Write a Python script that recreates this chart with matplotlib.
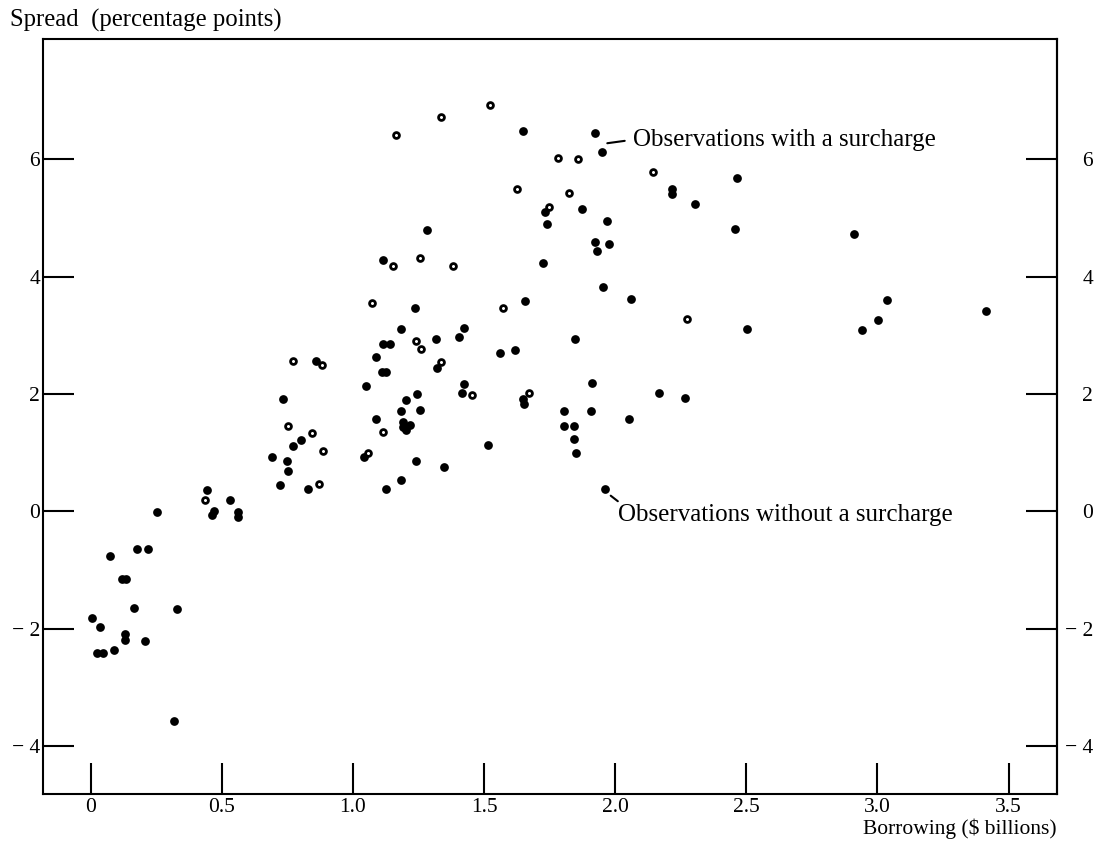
import numpy as np
import matplotlib.pyplot as plt

plt.rcParams['font.family'] = ['Liberation Serif', 'DejaVu Serif']

# observations without a surcharge (solid dots)
x_fill = [0.445, 0.533, 0.724, 0.828, 0.252, 0.462, 0.472, 0.561, 0.561, 0.073,
          0.177, 0.220, 0.119, 0.135, 0.165, 0.329, 0.006, 0.037, 0.130, 0.133,
          0.209, 0.024, 0.049, 0.088, 0.318,
          1.185, 1.116, 1.142, 1.316, 1.404, 1.423, 1.087, 1.111, 1.127, 0.860,
          1.321, 1.561, 0.734, 1.051, 1.202, 1.246, 1.424, 1.416, 1.185, 1.255,
          1.087, 1.193, 1.218, 1.190, 1.203, 0.801, 0.773, 0.691, 0.750, 0.754,
          1.043, 1.240, 1.349, 1.517, 1.127, 1.185,
          1.648, 1.733, 1.739, 1.284, 1.726, 1.115, 1.237, 1.658, 1.847,
          1.925, 1.949, 2.465, 2.218, 2.218, 2.306, 1.875, 1.968, 2.458, 1.925,
          1.930, 1.976, 1.955, 2.062, 2.503, 1.617, 1.650, 1.653, 1.912, 2.169,
          2.267, 1.804, 1.908, 2.054, 1.804, 1.844, 1.844, 1.850, 1.963,
          2.912, 3.037, 3.003, 2.942, 3.413]
y_fill = [0.366, 0.196, 0.446, 0.383, -0.003, -0.060, 0.014, -0.003, -0.089, -0.758,
          -0.639, -0.639, -1.145, -1.145, -1.649, -1.666, -1.814, -1.968, -2.082, -2.194,
          -2.206, -2.411, -2.411, -2.359, -3.564,
          3.109, 2.853, 2.853, 2.934, 2.978, 3.121, 2.627, 2.382, 2.382, 2.569,
          2.440, 2.695, 1.917, 2.133, 1.900, 2.007, 2.177, 2.014, 1.712, 1.729,
          1.581, 1.530, 1.474, 1.445, 1.388, 1.218, 1.121, 0.934, 0.865, 0.690,
          0.934, 0.860, 0.763, 1.138, 0.383, 0.537,
          6.470, 5.107, 4.903, 4.790, 4.233, 4.290, 3.472, 3.591, 2.939,
          6.448, 6.119, 5.676, 5.494, 5.409, 5.233, 5.153, 4.949, 4.813, 4.596,
          4.443, 4.552, 3.825, 3.625, 3.104, 2.746, 1.911, 1.831, 2.184, 2.019,
          1.939, 1.707, 1.717, 1.571, 1.462, 1.451, 1.235, 0.991, 0.378,
          4.722, 3.598, 3.268, 3.097, 3.416]

# observations with a surcharge (open circles)
x_open = [0.435, 0.872, 1.240, 1.261, 0.771, 0.884, 1.337, 1.453, 1.114, 0.754,
          0.843, 0.885, 1.057, 1.523, 1.335, 1.165, 1.783, 1.857, 1.627, 1.823,
          1.749, 1.154, 1.255, 1.383, 1.072, 1.571, 2.146, 2.274, 1.672]
y_open = [0.191, 0.468, 2.910, 2.773, 2.569, 2.496, 2.542, 1.990, 1.349, 1.457,
          1.332, 1.036, 0.991, 6.920, 6.709, 6.409, 6.017, 6.005, 5.499, 5.421,
          5.182, 4.177, 4.313, 4.182, 3.547, 3.462, 5.779, 3.285, 2.024]

x_ticks = [0, 0.5, 1.0, 1.5, 2.0, 2.5, 3.0, 3.5]
x_labels = ['0', '0.5', '1.0', '1.5', '2.0', '2.5', '3.0', '3.5']
y_ticks = [-4, -2, 0, 2, 4, 6]
y_labels = ['\u2212 4', '\u2212 2', '0', '2', '4', '6']

fig = plt.figure(figsize=(10.94, 8.41), dpi=100)
ax = fig.add_axes([0.0391, 0.0559, 0.9270, 0.8974])

ax.plot(x_fill, y_fill, 'o', ms=6.3, mfc='black', mec='black', mew=0, zorder=3)
ax.plot(x_open, y_open, 'o', ms=4.2, mfc='white', mec='black', mew=2.0, zorder=3)

ax.set_xlim(-0.182, 3.684)
ax.set_ylim(-4.81, 8.04)

for s in ax.spines.values():
    s.set_linewidth(1.5)

ax.set_xticks(x_ticks, x_labels)
ax.set_yticks(y_ticks, y_labels)
ax.tick_params(axis='x', direction='in', length=22, width=1.5, pad=3, labelsize=15.5)
ax.tick_params(axis='y', direction='in', length=22, width=1.5, pad=2, labelsize=15.5,
               left=True, right=False)

sec = ax.secondary_yaxis('right')
sec.set_yticks(y_ticks, y_labels, ha='right')
sec.tick_params(axis='y', direction='in', length=22, width=1.5, pad=26, labelsize=15.5)
sec.spines['right'].set_linewidth(1.5)

ax.set_xlabel('Borrowing ($ billions)', loc='right', fontsize=15.5, labelpad=1)
fig.text(10 / 1094, 1 - 27 / 841, 'Spread  (percentage points)', fontsize=17.8,
         ha='left', va='baseline')

ax.annotate('Observations with a surcharge', xy=(1.970, 6.27), xytext=(2.068, 6.33),
            fontsize=18, ha='left', va='center',
            arrowprops=dict(arrowstyle='-', lw=1.5, relpos=(0, 0.5), shrinkA=4, shrinkB=0))
ax.annotate('Observations without a surcharge', xy=(1.983, 0.269), xytext=(2.011, -0.06),
            fontsize=18, ha='left', va='center',
            arrowprops=dict(arrowstyle='-', lw=1.5, relpos=(0.01, 1.0), shrinkA=0, shrinkB=0))

fig.savefig('out.png', dpi=100)
